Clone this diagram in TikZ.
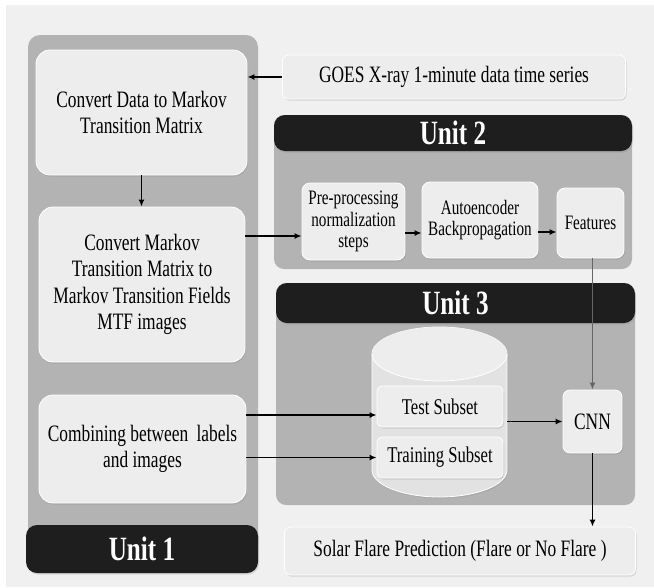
\documentclass[tikz,border=0pt]{standalone}
\usepackage{fontspec}
\setmainfont[FakeStretch=0.74]{Liberation Serif}
\usetikzlibrary{shadows,arrows.meta}

\definecolor{bggray}{HTML}{F0F0F0}
\definecolor{panelgray}{HTML}{B3B3B3}
\definecolor{barblack}{HTML}{1E1E1E}
\definecolor{boxgray}{HTML}{EDEDED}
\definecolor{cylgray}{HTML}{E2E2E2}

\begin{document}
\begin{tikzpicture}[x=1pt, y=-1pt, >={Latex[length=7pt, width=6pt]},
		box/.style={draw=white, line width=0.8pt, fill=boxgray, rounded corners=14pt, align=center, inner sep=0pt,
			text=black, font=\rmfamily\fontsize{23.5}{26.5}\selectfont,
			drop shadow={opacity=0.25, shadow xshift=1pt, shadow yshift=-1.5pt}},
		smallbox/.style={box, rounded corners=8pt, font=\rmfamily\fontsize{20.5}{21.7}\selectfont},
		unitbar/.style={fill=barblack, rounded corners=11pt, text=white, inner sep=0pt,
			font=\rmfamily\fontsize{34}{36}\selectfont\bfseries,
			drop shadow={opacity=0.25, shadow xshift=1pt, shadow yshift=-1.5pt}},
		arr/.style={->, line width=1.8pt}]
		\useasboundingbox (0,0) rectangle (654,587);
		\fill[bggray] (6,5) rectangle (654,587);

		\fill[panelgray, rounded corners=12pt] (28,35) rectangle (258,560);
		\fill[panelgray, rounded corners=10pt] (274,115) rectangle (632,269);
		\fill[panelgray, rounded corners=10pt] (276,283) rectangle (635,505);

		\node[unitbar, minimum width=232pt, minimum height=48pt] (unitone) at (142,549) {Unit 1};
		\node[unitbar, minimum width=358pt, minimum height=36pt] (unittwo) at (453,133) {Unit 2};
		\node[unitbar, minimum width=359pt, minimum height=40pt] (unitthree) at (455.5,303) {Unit 3};

		\node[box, minimum width=211pt, minimum height=125pt] (convA) at (141.5,112.5) {Convert Data to Markov\\Transition Matrix};
		\node[box, minimum width=206pt, minimum height=155pt] (convB) at (142,284.5) {Convert Markov\\Transition Matrix to\\Markov Transition Fields\\MTF images};
		\node[box, minimum width=207pt, minimum height=108pt] (convC) at (142.5,449) {Combining between\ \,labels\\and images};
		\node[box, rounded corners=6pt, minimum width=343pt, minimum height=44pt] (goes) at (454,77) {GOES X-ray 1-minute data time series};

		\node[smallbox, minimum width=103pt, minimum height=77pt] (pre) at (353.5,221.5) {Pre-processing\\normalization\\steps};
		\node[smallbox, minimum width=116pt, minimum height=76pt] (autoenc) at (480,220) {Autoencoder\\Backpropagation};
		\node[smallbox, minimum width=67pt, minimum height=70pt] (feat) at (590.5,223) {Features};

		\path[fill=cylgray, draw=white, line width=0.8pt, drop shadow={opacity=0.2, shadow xshift=1pt, shadow yshift=-1.5pt}]
			(372,354) -- (372,470) arc[start angle=180, end angle=360, x radius=67.5pt, y radius=27pt]
			-- (507,354) arc[start angle=0, end angle=180, x radius=67.5pt, y radius=27pt] -- cycle;
		\fill[boxgray] (439.5,354) ellipse[x radius=67.5pt, y radius=27pt];
		\draw[white, line width=0.8pt] (372,354) arc[start angle=180, end angle=360, x radius=67.5pt, y radius=27pt];
		\coordinate (dataeast) at (507,422);

		\node[box, rounded corners=5pt, minimum width=126pt, minimum height=41pt, font=\rmfamily\fontsize{22.5}{24}\selectfont] (test) at (440,406.5) {Test Subset};
		\node[box, rounded corners=5pt, minimum width=126pt, minimum height=41pt, font=\rmfamily\fontsize{22.5}{24}\selectfont] (train) at (440,457.5) {Training Subset};
		\node[box, rounded corners=7pt, minimum width=59pt, minimum height=63pt] (cnn) at (592.5,421.5) {CNN};
		\node[box, rounded corners=6pt, minimum width=351pt, minimum height=48pt] (solar) at (460,551) {Solar Flare Prediction (Flare or No Flare )};

		\draw[arr] (goes.west) -- (goes.west -| convA.east);
		\draw[arr] (convA.south) -- (convA.south |- convB.north);
		\draw[arr] (convB.east |- 0,236) -- (pre.west |- 0,236);
		\draw[arr] (pre.east |- 0,233) -- (autoenc.west |- 0,233);
		\draw[arr] (autoenc.east |- 0,232) -- (feat.west |- 0,232);
		\draw[arr, black!60] (feat.south -| cnn.north) -- (cnn.north);
		\draw[arr] (convC.east |- 0,415) -- (test.west |- 0,415);
		\draw[arr] (convC.east |- train.west) -- (train.west);
		\draw[arr] (dataeast |- cnn.west) -- (cnn.west);
		\draw[arr] (cnn.south) -- (cnn.south |- solar.north);
	\end{tikzpicture}
\end{document}
